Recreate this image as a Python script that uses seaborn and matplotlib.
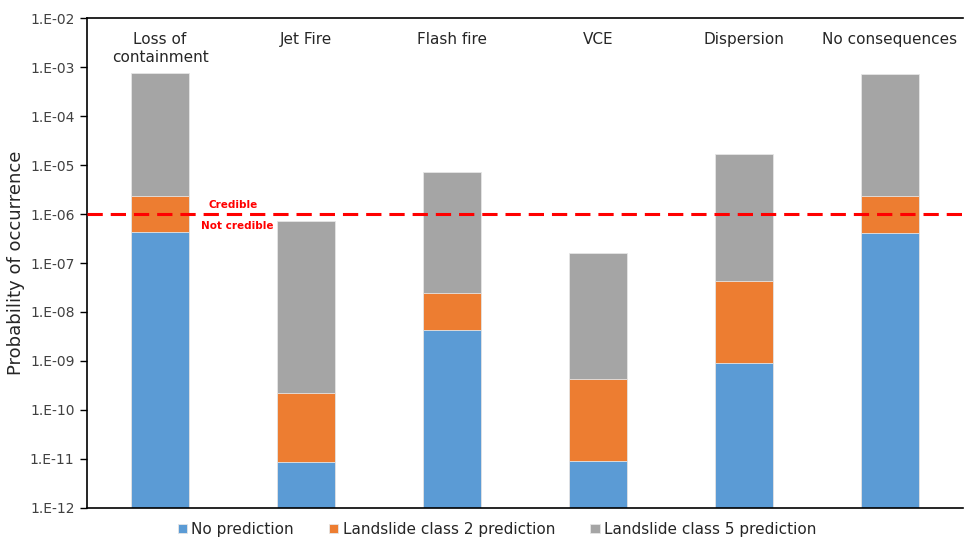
import matplotlib
matplotlib.use("Agg")
import matplotlib.pyplot as plt
import matplotlib.ticker as mticker
import seaborn as sns
import numpy as np

# ---- data (tops of each stacked segment) ----
categories = ["Loss of\ncontainment", "Jet Fire", "Flash fire", "VCE", "Dispersion", "No consequences"]
no_prediction = [4.3e-7, 8.8e-12, 4.35e-9, 8.9e-12, 9.0e-10, 4.1e-7]
class2_top = [2.33e-6, 2.2e-10, 2.4e-8, 4.2e-10, 4.2e-8, 2.3e-6]
class5_top = [7.5e-4, 7.2e-7, 7.2e-6, 1.6e-7, 1.65e-5, 7.3e-4]
series_labels = ["No prediction", "Landslide class 2 prediction", "Landslide class 5 prediction"]
ytick_values = [1e-12, 1e-11, 1e-10, 1e-9, 1e-8, 1e-7, 1e-6, 1e-5, 1e-4, 1e-3, 1e-2]
ytick_labels = ["1.E-12", "1.E-11", "1.E-10", "1.E-09", "1.E-08", "1.E-07",
                "1.E-06", "1.E-05", "1.E-04", "1.E-03", "1.E-02"]
threshold = 1e-6

colors = ["#5B9BD5", "#ED7D31", "#A5A5A5"]

sns.set_style("white")
plt.rcParams['font.family'] = ['DejaVu Sans']

fig = plt.figure(figsize=(9.64, 5.38), dpi=100)
ax = fig.add_axes([0.0903, 0.0558, 0.9097 - 0.001, 0.9107])
ax.set_yscale("log")

for vals, col, lab in zip([class5_top, class2_top, no_prediction], colors[::-1], series_labels[::-1]):
    sns.barplot(x=categories, y=vals, color=col, width=0.4, ax=ax, label=lab,
                edgecolor="#e6e6e6", linewidth=0.6, saturation=1)

ax.set_ylim(1e-12, 1e-2)
ax.set_xlim(-0.5, len(categories) - 0.5)
ax.yaxis.set_major_locator(mticker.FixedLocator(ytick_values))
ax.yaxis.set_major_formatter(mticker.FixedFormatter(ytick_labels))
ax.yaxis.set_minor_locator(mticker.NullLocator())
ax.tick_params(axis="y", which="major", left=True, length=5, width=1, color="black",
               labelsize=10, labelcolor="#404040", pad=4)
ax.tick_params(axis="x", bottom=False, labelbottom=False)

# category labels inside top of plot
for i, cat in enumerate(categories):
    ax.text(i, 10 ** -2.28, cat, ha="center", va="top", fontsize=11, color="#262626",
            linespacing=1.25)

ax.set_ylabel("Probability of occurrence", fontsize=13, color="#262626")
ax.yaxis.set_label_coords(-0.0705, 0.5)

for side in ["left", "bottom", "top"]:
    ax.spines[side].set_visible(True)
    ax.spines[side].set_color("black")
    ax.spines[side].set_linewidth(1.2)
ax.spines["right"].set_visible(False)

# threshold
ax.axhline(threshold, color="#FF0000", linestyle=(0, (5, 2.6)), linewidth=2.2, zorder=5)
ax.text(0.5, threshold * 1.55, "Credible", color="#FF0000", fontsize=7.5,
        fontweight="bold", ha="center", va="center")
ax.text(0.53, threshold / 1.75, "Not credible", color="#FF0000", fontsize=7.5,
        fontweight="bold", ha="center", va="center")

handles, labels = ax.get_legend_handles_labels()
order = [labels.index(l) for l in series_labels]
ax.legend([handles[i] for i in order], [labels[i] for i in order],
          loc="upper center", bbox_to_anchor=(0.468, -0.016), ncol=3, frameon=False,
          fontsize=11, handlelength=0.6, handleheight=0.6, handletextpad=0.3,
          columnspacing=2.3, labelcolor="#262626", borderaxespad=0)

fig.savefig("out.png", dpi=100)
